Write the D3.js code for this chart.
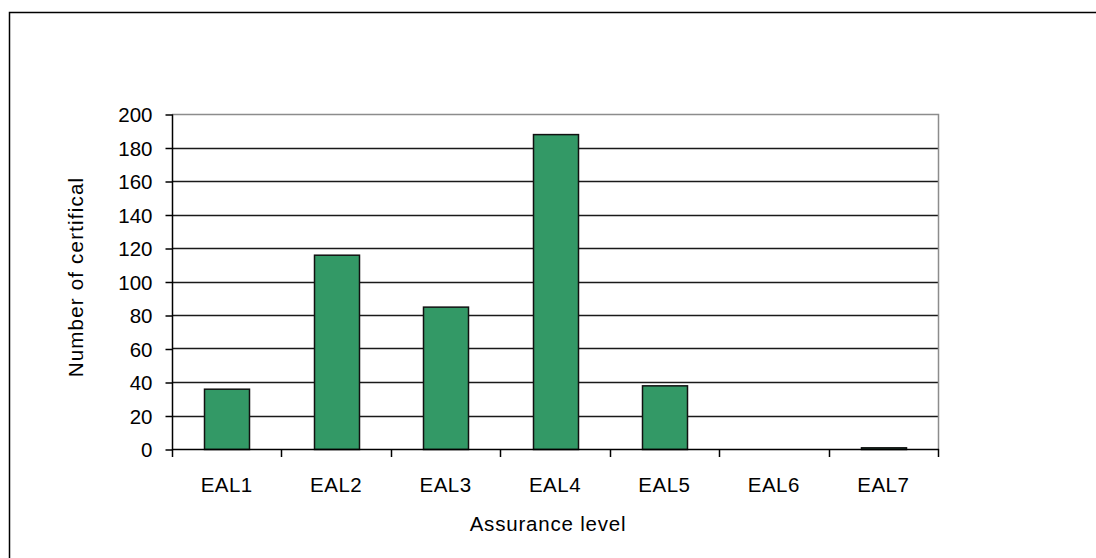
<!DOCTYPE html>
<html>
<head>
<meta charset="utf-8">
<script src="https://cdn.jsdelivr.net/npm/d3@7"></script>
<style>
  html, body { margin: 0; padding: 0; background: #fff; }
  svg { display: block; }
  text { font-family: Arial, "Liberation Sans", sans-serif; fill: #000; }
</style>
</head>
<body>
<svg width="1096" height="558"></svg>
<script>
// Data
var levels = ["EAL1", "EAL2", "EAL3", "EAL4", "EAL5", "EAL6", "EAL7"];
var counts = [36, 116, 85, 188, 38, 0, 1];
var yTicks = [0, 20, 40, 60, 80, 100, 120, 140, 160, 180, 200];

var svg = d3.select("svg");

// outer chart frame (runs past the right/bottom edge)
svg.append("rect")
    .attr("x", 9.5).attr("y", 12.5)
    .attr("width", 1200).attr("height", 700)
    .attr("fill", "none")
    .attr("stroke", "#000")
    .attr("stroke-width", 1.5);

var plotLeft = 172, plotRight = 938, plotTop = 114, plotBottom = 449;

var x = d3.scaleBand()
    .domain(levels)
    .range([plotLeft, plotRight])
    .padding(0);

var y = d3.scaleLinear()
    .domain([0, 200])
    .range([plotBottom, plotTop]);

// gridlines
svg.append("g")
    .selectAll("line")
    .data(yTicks.filter(function(d) { return d > 0 && d < 200; }))
    .enter()
    .append("line")
    .attr("x1", plotLeft).attr("x2", plotRight)
    .attr("y1", function(d) { return Math.round(y(d)) + 0.5; })
    .attr("y2", function(d) { return Math.round(y(d)) + 0.5; })
    .attr("stroke", "#1a1a1a")
    .attr("stroke-width", 1.3);

// plot area border (top and right, gray)
svg.append("path")
    .attr("d", "M" + plotLeft + "," + (plotTop + 0.5) + "H" + (plotRight + 0.5) + "V" + plotBottom)
    .attr("fill", "none")
    .attr("stroke", "#8c8c8c")
    .attr("stroke-width", 1.5);

// bars
var bw = x.bandwidth() * 0.41;
svg.append("g")
    .selectAll("rect")
    .data(levels)
    .enter()
    .append("rect")
    .attr("x", function(d) { return Math.round(x(d) + (x.bandwidth() - bw) / 2) + 0.5; })
    .attr("width", Math.round(bw))
    .attr("y", function(d, i) { return y(counts[i]) + 0.5; })
    .attr("height", function(d, i) { return Math.max(0, plotBottom - y(counts[i])); })
    .attr("fill", function(d, i) { return counts[i] > 0 ? "#339966" : "none"; })
    .attr("stroke", function(d, i) { return counts[i] > 0 ? "#111" : "none"; })
    .attr("stroke-width", 1.5);

// y axis
var yAxis = d3.axisLeft(y)
    .tickValues(yTicks)
    .tickSize(7)
    .tickPadding(13);

var gy = svg.append("g")
    .attr("transform", "translate(" + (plotLeft + 0.5) + ",0.5)")
    .call(yAxis);
gy.select(".domain").attr("stroke", "#000").attr("stroke-width", 1.5)
    .attr("d", "M0," + plotTop + "V" + plotBottom);
gy.selectAll(".tick line").attr("stroke", "#000").attr("stroke-width", 1.5);
gy.selectAll(".tick text")
    .style("font-size", "20.5px")
    .style("font-family", "Arial, 'Liberation Sans', sans-serif")
    .attr("fill", "#000")
    .attr("dy", "0.36em");

// x axis: ticks at category boundaries
svg.append("line")
    .attr("x1", plotLeft).attr("x2", plotRight + 1)
    .attr("y1", plotBottom + 0.5).attr("y2", plotBottom + 0.5)
    .attr("stroke", "#000").attr("stroke-width", 1.5);

var bounds = levels.map(function(d) { return x(d); }).concat([plotRight]);
svg.append("g")
    .selectAll("line")
    .data(bounds)
    .enter()
    .append("line")
    .attr("x1", function(d) { return Math.round(d) + 0.5; })
    .attr("x2", function(d) { return Math.round(d) + 0.5; })
    .attr("y1", plotBottom).attr("y2", plotBottom + 8)
    .attr("stroke", "#000").attr("stroke-width", 1.5);

svg.append("g")
    .selectAll("text")
    .data(levels)
    .enter()
    .append("text")
    .attr("x", function(d) { return x(d) + x.bandwidth() / 2; })
    .attr("y", 492)
    .attr("text-anchor", "middle")
    .style("font-size", "20.5px")
    .style("letter-spacing", "0.5px")
    .text(function(d) { return d; });

// axis titles
svg.append("text")
    .attr("x", 548)
    .attr("y", 531)
    .attr("text-anchor", "middle")
    .style("font-size", "20.5px")
    .style("letter-spacing", "0.8px")
    .text("Assurance level");

svg.append("text")
    .attr("transform", "translate(83,277) rotate(-90)")
    .attr("text-anchor", "middle")
    .style("font-size", "20.5px")
    .style("letter-spacing", "1.2px")
    .text("Number of certifical");
</script>
</body>
</html>
